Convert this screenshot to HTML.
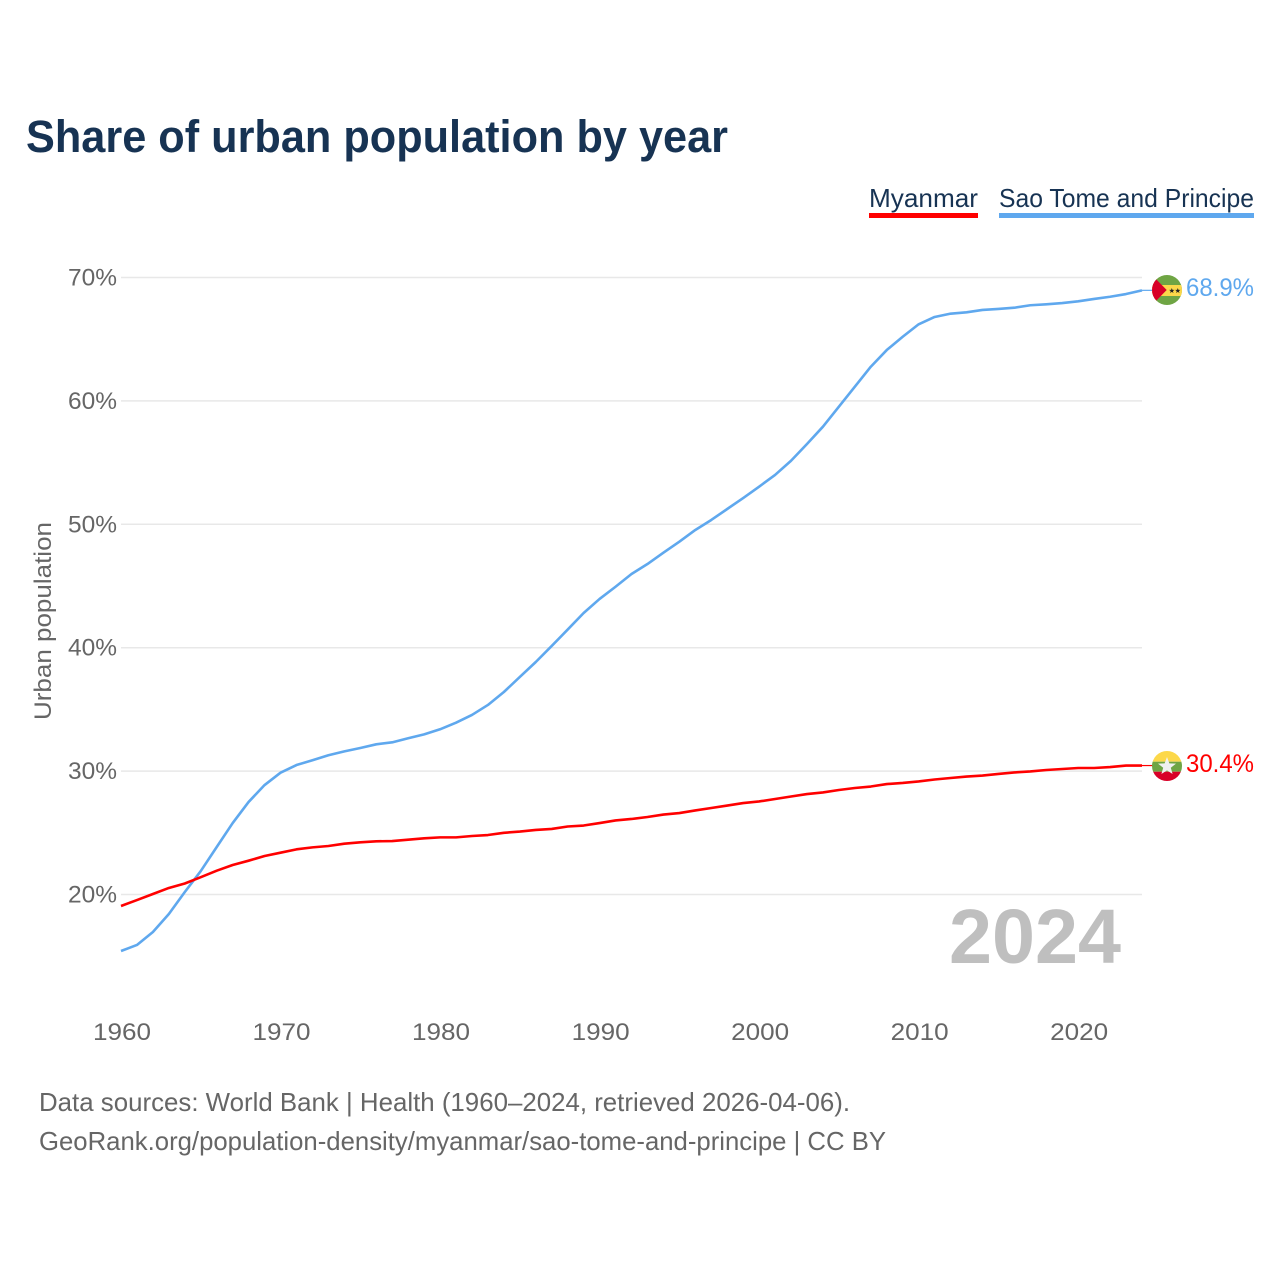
<!DOCTYPE html>
<html lang="en">
<head>
<meta charset="utf-8">
<title>Share of urban population by year</title>
<style>
html,body{margin:0;padding:0;background:#fff;}
svg{display:block;font-family:"Liberation Sans",sans-serif;}
</style>
</head>
<body>
<svg id="chart" width="1280" height="1280" viewBox="0 0 1280 1280">
  <rect width="1280" height="1280" fill="#fff"/>
  <text x="26" y="152" font-size="45" font-weight="700" fill="#173353" textLength="702" lengthAdjust="spacingAndGlyphs">Share of urban population by year</text>

  <g>
    <g>
      <text x="869" y="207" font-size="26" fill="#173353" textLength="109" lengthAdjust="spacingAndGlyphs">Myanmar</text>
      <rect x="869" y="213" width="109" height="5" fill="#ff0000"/>
    </g>
    <g>
      <text x="999" y="207" font-size="26" fill="#173353" textLength="255" lengthAdjust="spacingAndGlyphs">Sao Tome and Principe</text>
      <rect x="999" y="213" width="255" height="5" fill="#5fa8ee"/>
    </g>
  </g>

  <text transform="translate(51,621) rotate(-90)" text-anchor="middle" font-size="24" fill="#666" textLength="198" lengthAdjust="spacingAndGlyphs">Urban population</text>

  <g id="grid"></g>
  <g id="yticks"></g>
  <g id="xticks"></g>

  <text x="1121" y="963" text-anchor="end" font-size="77" font-weight="700" fill="#bfbfbf" textLength="172" lengthAdjust="spacingAndGlyphs">2024</text>

  <g id="series"></g>

  <defs>
    <clipPath id="clip-stp"><circle id="clip-stp-c" cx="1167" cy="290" r="15"/></clipPath>
    <clipPath id="clip-mm"><circle id="clip-mm-c" cx="1167" cy="766" r="15"/></clipPath>
  </defs>

  <g clip-path="url(#clip-stp)">
    <rect x="1152" y="275" width="30" height="30" fill="#6fa544"/>
    <rect x="1152" y="285" width="30" height="11" fill="#fcd84a"/>
    <polygon points="1152,275 1166.7,290 1152,305" fill="#d80027"/>
    <polygon points="1171.8,288 1172.5,289.9 1174.5,289.9 1172.9,291.1 1173.5,293 1171.8,291.9 1170.1,293 1170.7,291.1 1169.1,289.9 1171.1,289.9" fill="#222"/>
    <polygon points="1177.8,288 1178.5,289.9 1180.5,289.9 1178.9,291.1 1179.5,293 1177.8,291.9 1176.1,293 1176.7,291.1 1175.1,289.9 1177.1,289.9" fill="#222"/>
  </g>
  <text x="1254" y="296" text-anchor="end" font-size="25" fill="#5fa8ee" textLength="68" lengthAdjust="spacingAndGlyphs">68.9%</text>

  <g clip-path="url(#clip-mm)">
    <rect x="1152" y="751" width="30" height="10.7" fill="#fcd84a"/>
    <rect x="1152" y="761.7" width="30" height="10" fill="#6fa544"/>
    <rect x="1152" y="771.7" width="30" height="10" fill="#d80027"/>
    <polygon points="1167,757 1169.4,763.4 1176,763.6 1170.8,767.7 1172.6,774 1167,770.4 1161.4,774 1163.2,767.7 1158,763.6 1164.6,763.4" fill="#f0f0f0"/>
  </g>
  <text x="1254" y="772" text-anchor="end" font-size="25" fill="#ff0000" textLength="68" lengthAdjust="spacingAndGlyphs">30.4%</text>

  <text x="39" y="1111" font-size="26" fill="#666" textLength="811" lengthAdjust="spacingAndGlyphs">Data sources: World Bank | Health (1960–2024, retrieved 2026-04-06).</text>
  <text x="39" y="1150" font-size="26" fill="#666" textLength="847" lengthAdjust="spacingAndGlyphs">GeoRank.org/population-density/myanmar/sao-tome-and-principe | CC BY</text>
</svg>
<script>
const firstYear = 1960;
const yTickValues = [20, 30, 40, 50, 60, 70];
const xTickValues = [1960, 1970, 1980, 1990, 2000, 2010, 2020];
const myanmarValues = [19.07,19.55,20.04,20.53,20.89,21.40,21.93,22.39,22.74,23.12,23.39,23.66,23.82,23.93,24.12,24.23,24.31,24.33,24.44,24.55,24.63,24.63,24.74,24.82,25.00,25.10,25.23,25.31,25.51,25.59,25.79,26.00,26.12,26.28,26.48,26.60,26.81,27.01,27.21,27.41,27.54,27.74,27.94,28.14,28.27,28.47,28.63,28.75,28.95,29.04,29.16,29.32,29.44,29.56,29.64,29.77,29.89,29.97,30.09,30.17,30.25,30.25,30.33,30.45,30.45];
const saoTomeValues = [15.42,15.91,16.96,18.42,20.20,21.90,23.85,25.79,27.50,28.87,29.87,30.49,30.88,31.28,31.60,31.87,32.17,32.33,32.66,32.98,33.39,33.92,34.55,35.36,36.41,37.63,38.84,40.14,41.47,42.81,43.95,44.94,45.97,46.78,47.70,48.59,49.54,50.35,51.24,52.13,53.05,54.00,55.15,56.51,57.91,59.53,61.15,62.77,64.12,65.20,66.21,66.80,67.07,67.18,67.37,67.45,67.55,67.75,67.83,67.93,68.07,68.26,68.44,68.66,68.96];

const NS = 'http://www.w3.org/2000/svg';
function xScale(year) { return 121 + (year - 1960) * 15.953; }
function yScale(v) { return 894.5 - (v - 20) * 12.34; }

const grid = document.getElementById('grid');
const yticks = document.getElementById('yticks');
const xticks = document.getElementById('xticks');
const seriesGroup = document.getElementById('series');

yTickValues.forEach(function (v) {
  const line = document.createElementNS(NS, 'line');
  line.setAttribute('x1', 121);
  line.setAttribute('x2', 1142);
  line.setAttribute('y1', yScale(v));
  line.setAttribute('y2', yScale(v));
  line.setAttribute('stroke', '#e8e8e8');
  line.setAttribute('stroke-width', '1.5');
  
  
  grid.appendChild(line);

  const t = document.createElementNS(NS, 'text');
  t.setAttribute('x', 117);
  t.setAttribute('y', yScale(v) + 8);
  t.setAttribute('text-anchor', 'end');
  t.setAttribute('font-size', '24');
  t.setAttribute('fill', '#666');
  t.setAttribute('textLength', '49');
  t.setAttribute('lengthAdjust', 'spacingAndGlyphs');
  t.textContent = v + '%';
  
  
  yticks.appendChild(t);
});

xTickValues.forEach(function (year) {
  const t = document.createElementNS(NS, 'text');
  t.setAttribute('x', xScale(year) + 1);
  t.setAttribute('y', 1040);
  t.setAttribute('text-anchor', 'middle');
  t.setAttribute('font-size', '24');
  t.setAttribute('fill', '#666');
  t.setAttribute('textLength', '58');
  t.setAttribute('lengthAdjust', 'spacingAndGlyphs');
  t.textContent = year;
  
  
  xticks.appendChild(t);
});

function drawSeries(values, color, name) {
  const pts = values.map(function (v, i) {
    return xScale(firstYear + i).toFixed(2) + ',' + yScale(v).toFixed(2);
  });
  const line = document.createElementNS(NS, 'polyline');
  line.setAttribute('points', pts.join(' '));
  line.setAttribute('fill', 'none');
  line.setAttribute('stroke', color);
  line.setAttribute('stroke-width', '2.6');
  line.setAttribute('stroke-linejoin', 'round');
  
  
  seriesGroup.appendChild(line);

  const last = values[values.length - 1];
  const tail = document.createElementNS(NS, 'line');
  tail.setAttribute('x1', xScale(firstYear + values.length - 1));
  tail.setAttribute('x2', 1153);
  tail.setAttribute('y1', yScale(last));
  tail.setAttribute('y2', yScale(last));
  tail.setAttribute('stroke', color);
  tail.setAttribute('stroke-width', '1.2');
  
  
  seriesGroup.appendChild(tail);
}

drawSeries(saoTomeValues, '#5fa8ee', 'line-sao-tome');
drawSeries(myanmarValues, '#ff0000', 'line-myanmar');
</script>
</body>
</html>
